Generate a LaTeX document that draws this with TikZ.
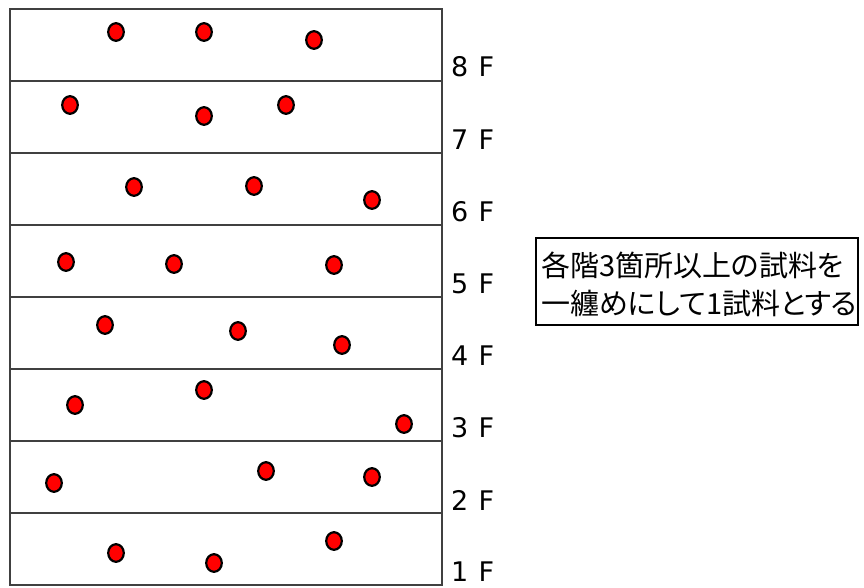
\documentclass[tikz,border=0pt]{standalone}
\usepackage{fontspec}
\setmainfont{Liberation Sans}
\newfontfamily\jpfont[RawFeature=+palt]{Noto Sans CJK JP}
\newfontfamily\lblfont{DejaVu Sans}
\usetikzlibrary{shapes.geometric}
\begin{document}
\begin{tikzpicture}[x=1pt,y=-1pt,
  dot/.style={ellipse, draw=black, fill=red, line width=2.2pt, minimum width=15.6pt, minimum height=17.6pt, inner sep=0pt},
  floorline/.style={draw=black!75, line width=2pt},
  flabel/.style={anchor=west, font=\lblfont\fontsize{27}{27}\selectfont, inner sep=0pt},
  notebox/.style={draw=black, line width=1.6pt, minimum width=322pt, minimum height=87pt, inner sep=0pt},
  notetext/.style={anchor=west, align=left, inner sep=0pt, font=\jpfont\fontsize{29}{38}\selectfont}]
\useasboundingbox (0,0) rectangle (864,588);
\draw[floorline] (10,9) rectangle (442,585);
\foreach \y in {81,153,...,513} \draw[floorline] (10,\y) -- (442,\y);
% floor labels
\foreach \n/\y in {8/67,7/140,6/212,5/284,4/356,3/428,2/500,1/572}
  \node[flabel] (f\n) at (451,\y) {\n\hspace{0.38em}F};
% sample points
\node[dot] (d81) at (116,32) {};
\node[dot] (d82) at (204,32) {};
\node[dot] (d83) at (314,40) {};
\node[dot] (d71) at (70,105) {};
\node[dot] (d72) at (204,116) {};
\node[dot] (d73) at (286,105) {};
\node[dot] (d61) at (134,187) {};
\node[dot] (d62) at (254,186) {};
\node[dot] (d63) at (372,200) {};
\node[dot] (d51) at (66,262) {};
\node[dot] (d52) at (174,264) {};
\node[dot] (d53) at (334,265) {};
\node[dot] (d41) at (105,325) {};
\node[dot] (d42) at (238,331) {};
\node[dot] (d43) at (342,345) {};
\node[dot] (d31) at (75,405) {};
\node[dot] (d32) at (204,390) {};
\node[dot] (d33) at (404,424) {};
\node[dot] (d21) at (54,483) {};
\node[dot] (d22) at (266,471) {};
\node[dot] (d23) at (372,477) {};
\node[dot] (d11) at (116,553) {};
\node[dot] (d12) at (214,563) {};
\node[dot] (d13) at (334,541) {};
% note
\node[notebox] (note) at (697,281.5) {};
\node[notetext] (notetxt) at (541,284.5) {各階3箇所以上の試料を\\一纏めにして1試料とする};
\end{tikzpicture}
\end{document}
